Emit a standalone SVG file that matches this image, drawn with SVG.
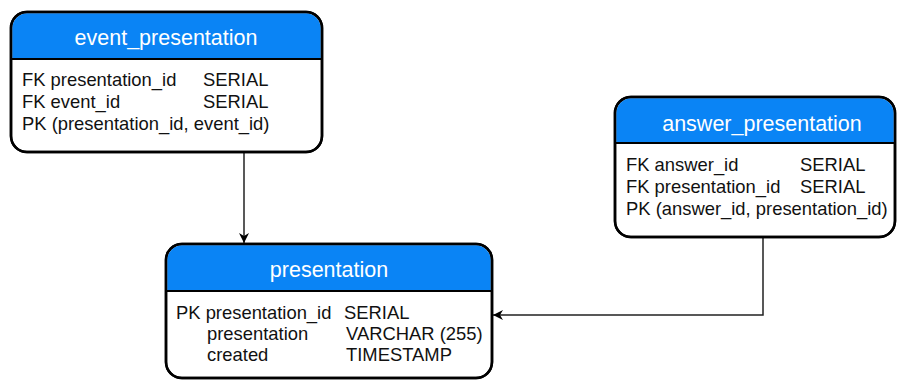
<svg xmlns="http://www.w3.org/2000/svg" width="898" height="381" viewBox="0 0 898 381">
<defs>
<style>
.box{fill:#ffffff;stroke:#000000;stroke-width:2.5}
.hdr{fill:#0a84f5;stroke:none}
.div{stroke:#000000;stroke-width:2}
.title{font-family:"Liberation Sans",Arial,sans-serif;font-size:21.5px;fill:#ffffff;text-anchor:middle}
.row{font-family:"Liberation Sans",Arial,sans-serif;font-size:18.4px;fill:#111111}
.conn{fill:none;stroke:#222222;stroke-width:1.5}
</style>
<marker id="arr" viewBox="0 0 10 10" refX="10" refY="5" markerWidth="10" markerHeight="10" markerUnits="userSpaceOnUse" orient="auto">
<path d="M0,0 L10,5 L0,10 L3,5 Z" fill="#000000"/>
</marker>
</defs>
<rect width="898" height="381" fill="#ffffff"/>
<g id="connectors">
<path class="conn" d="M244,152 V243" marker-end="url(#arr)"/>
<path class="conn" d="M763,237 V315 H493" marker-end="url(#arr)"/>
</g>
<g id="event_presentation">
<rect class="box" x="11" y="12" width="311" height="140" rx="16"/>
<path class="hdr" d="M12.25,59 V28 A15,15 0 0 1 27,13.25 H306 A15,15 0 0 1 320.75,28 V59 Z"/>
<line class="div" x1="11" y1="59" x2="322" y2="59"/>
<rect x="11" y="12" width="311" height="140" rx="16" fill="none" stroke="#000" stroke-width="2.5"/>
<text class="title" x="166" y="45">event_presentation</text>
<text class="row" x="22" y="86">FK presentation_id</text>
<text class="row" x="203" y="86">SERIAL</text>
<text class="row" x="22" y="108">FK event_id</text>
<text class="row" x="203" y="108">SERIAL</text>
<text class="row" x="22" y="130">PK (presentation_id, event_id)</text>
</g>
<g id="answer_presentation">
<rect class="box" x="615" y="97" width="280" height="140" rx="16"/>
<path class="hdr" d="M616.25,143 V113 A15,15 0 0 1 631,98.25 H879 A15,15 0 0 1 893.75,113 V143 Z"/>
<line class="div" x1="615" y1="143" x2="895" y2="143"/>
<rect x="615" y="97" width="280" height="140" rx="16" fill="none" stroke="#000" stroke-width="2.5"/>
<text class="title" x="762" y="131">answer_presentation</text>
<text class="row" x="626" y="171">FK answer_id</text>
<text class="row" x="800" y="171">SERIAL</text>
<text class="row" x="626" y="193">FK presentation_id</text>
<text class="row" x="800" y="193">SERIAL</text>
<text class="row" x="626" y="215">PK (answer_id, presentation_id)</text>
</g>
<g id="presentation">
<rect class="box" x="166" y="244" width="326" height="134" rx="16"/>
<path class="hdr" d="M167.25,291 V260 A15,15 0 0 1 182,245.25 H476 A15,15 0 0 1 490.75,260 V291 Z"/>
<line class="div" x1="166" y1="291" x2="492" y2="291"/>
<rect x="166" y="244" width="326" height="134" rx="16" fill="none" stroke="#000" stroke-width="2.5"/>
<text class="title" x="329" y="277">presentation</text>
<text class="row" x="176" y="319">PK presentation_id</text>
<text class="row" x="344" y="319">SERIAL</text>
<text class="row" x="207" y="340">presentation</text>
<text class="row" x="346" y="340">VARCHAR (255)</text>
<text class="row" x="207" y="361">created</text>
<text class="row" x="346" y="361">TIMESTAMP</text>
</g>
</svg>
